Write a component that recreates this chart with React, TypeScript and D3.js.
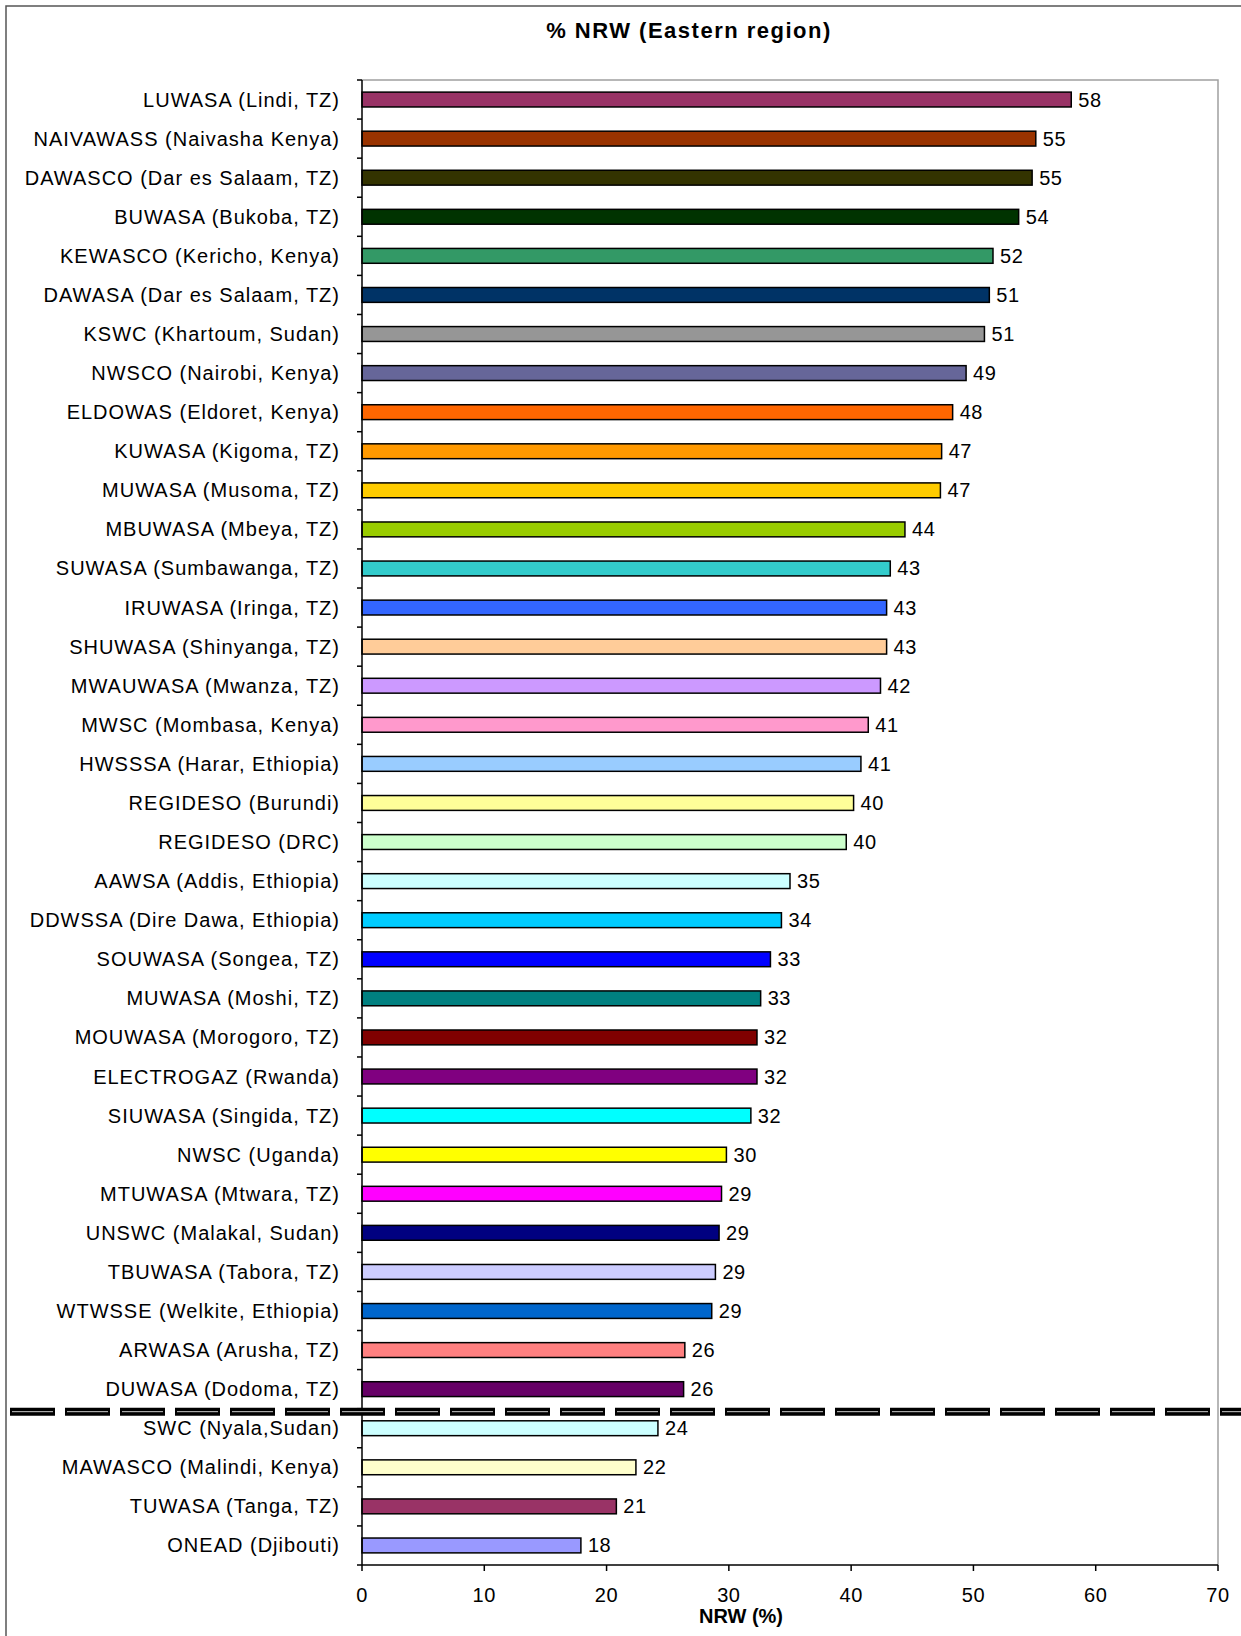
import React from "react";
import * as d3 from "d3";

const categories = [
  "LUWASA (Lindi, TZ)",
  "NAIVAWASS (Naivasha Kenya)",
  "DAWASCO (Dar es Salaam, TZ)",
  "BUWASA (Bukoba, TZ)",
  "KEWASCO (Kericho, Kenya)",
  "DAWASA (Dar es Salaam, TZ)",
  "KSWC (Khartoum, Sudan)",
  "NWSCO (Nairobi, Kenya)",
  "ELDOWAS (Eldoret, Kenya)",
  "KUWASA (Kigoma, TZ)",
  "MUWASA (Musoma, TZ)",
  "MBUWASA (Mbeya, TZ)",
  "SUWASA (Sumbawanga, TZ)",
  "IRUWASA (Iringa, TZ)",
  "SHUWASA (Shinyanga, TZ)",
  "MWAUWASA (Mwanza, TZ)",
  "MWSC (Mombasa, Kenya)",
  "HWSSSA (Harar, Ethiopia)",
  "REGIDESO (Burundi)",
  "REGIDESO (DRC)",
  "AAWSA (Addis, Ethiopia)",
  "DDWSSA (Dire Dawa, Ethiopia)",
  "SOUWASA (Songea, TZ)",
  "MUWASA (Moshi, TZ)",
  "MOUWASA (Morogoro, TZ)",
  "ELECTROGAZ (Rwanda)",
  "SIUWASA (Singida, TZ)",
  "NWSC (Uganda)",
  "MTUWASA (Mtwara, TZ)",
  "UNSWC (Malakal, Sudan)",
  "TBUWASA (Tabora, TZ)",
  "WTWSSE (Welkite, Ethiopia)",
  "ARWASA (Arusha, TZ)",
  "DUWASA (Dodoma, TZ)",
  "SWC (Nyala,Sudan)",
  "MAWASCO (Malindi, Kenya)",
  "TUWASA (Tanga, TZ)",
  "ONEAD (Djibouti)",
];

const nrwValues = [
  58.0, 55.1, 54.8, 53.7, 51.6, 51.3, 50.9, 49.4, 48.3, 47.4, 47.3, 44.4, 43.2,
  42.9, 42.9, 42.4, 41.4, 40.8, 40.2, 39.6, 35.0, 34.3, 33.4, 32.6, 32.3, 32.3,
  31.8, 29.8, 29.4, 29.2, 28.9, 28.6, 26.4, 26.3, 24.2, 22.4, 20.8, 17.9,
];

const barColors = [
  "#993366", "#993300", "#333300", "#003300", "#339966", "#003366", "#969696",
  "#666699", "#FF6600", "#FF9900", "#FFCC00", "#99CC00", "#33CCCC", "#3366FF",
  "#FFCC99", "#CC99FF", "#FF99CC", "#99CCFF", "#FFFF99", "#CCFFCC", "#CCFFFF",
  "#00CCFF", "#0000FF", "#008080", "#800000", "#800080", "#00FFFF", "#FFFF00",
  "#FF00FF", "#000080", "#CCCCFF", "#0066CC", "#FF8080", "#660066", "#CCFFFF",
  "#FFFFCC", "#993366", "#9999FF",
];

const xTicks = [0, 10, 20, 30, 40, 50, 60, 70];

const title = "% NRW (Eastern region)";
const xTitle = "NRW (%)";
// Separator drawn between DUWASA and SWC
const separatorAfterIndex = 33;

const W = 1241;
const H = 1636;
const plot = { left: 362, right: 1218, top: 80, bottom: 1565 };
const FONT = "'Liberation Sans', Arial, sans-serif";

export default function App() {
  const x = d3.scaleLinear().domain([0, 70]).range([plot.left, plot.right]);
  const y = d3
    .scaleBand<string>()
    .domain(categories)
    .range([plot.top, plot.bottom])
    .paddingInner(0.62)
    .paddingOuter(0.31);
  const step = y.step();
  const fmt = d3.format(".0f");
  const boundaries = d3.range(categories.length + 1).map((i) => plot.top + i * step);
  const sepY = plot.top + (separatorAfterIndex + 1) * step + 3;

  return (
    <div style={{ position: "absolute", left: 0, top: 0 }}>
      <svg width={W} height={H} style={{ display: "block", background: "#fff" }}>
        {/* outer chart frame */}
        <path d={`M6,${H} V6 H${W}`} fill="none" stroke="#555" strokeWidth={1.5} />
        <text
          x={689}
          y={38}
          textAnchor="middle"
          fontFamily={FONT}
          fontWeight="bold"
          fontSize={22}
          letterSpacing={1.5}
          fill="#000"
        >
          {title}
        </text>

        {/* plot area border (top & right) */}
        <path
          d={`M${plot.left},${plot.top} H${plot.right} V${plot.bottom}`}
          fill="none"
          stroke="#a0a0a0"
          strokeWidth={1.5}
        />

        {/* bars */}
        {categories.map((c, i) => (
          <rect
            key={c}
            x={x(0)}
            y={y(c)!}
            width={x(nrwValues[i]) - x(0)}
            height={y.bandwidth()}
            fill={barColors[i]}
            stroke="#000"
            strokeWidth={1.5}
          />
        ))}

        {/* value labels */}
        {categories.map((c, i) => (
          <text
            key={"v" + c}
            x={x(nrwValues[i]) + 7}
            y={y(c)! + y.bandwidth() / 2 + 7}
            fontFamily={FONT}
            fontSize={20}
            letterSpacing={0.6}
            fill="#000"
          >
            {fmt(nrwValues[i])}
          </text>
        ))}

        {/* category labels */}
        {categories.map((c) => (
          <text
            key={"c" + c}
            x={339 + 1}
            y={y(c)! + y.bandwidth() / 2 + 7}
            textAnchor="end"
            fontFamily={FONT}
            fontSize={20}
            letterSpacing={1.0}
            fill="#000"
          >
            {c}
          </text>
        ))}

        {/* y axis */}
        <line x1={plot.left} x2={plot.left} y1={plot.top} y2={plot.bottom} stroke="#000" strokeWidth={1.5} />
        {boundaries.map((b, i) => (
          <line key={"yt" + i} x1={plot.left - 5} x2={plot.left} y1={b} y2={b} stroke="#000" strokeWidth={1.5} />
        ))}

        {/* x axis */}
        <line x1={plot.left} x2={plot.right} y1={plot.bottom} y2={plot.bottom} stroke="#000" strokeWidth={1.5} />
        {xTicks.map((t) => (
          <g key={"xt" + t}>
            <line x1={x(t)} x2={x(t)} y1={plot.bottom} y2={plot.bottom + 6} stroke="#000" strokeWidth={1.5} />
            <text
              x={x(t)}
              y={1602}
              textAnchor="middle"
              fontFamily={FONT}
              fontSize={20}
              letterSpacing={0.6}
              fill="#000"
            >
              {t}
            </text>
          </g>
        ))}
        <text
          x={741}
          y={1623}
          textAnchor="middle"
          fontFamily={FONT}
          fontWeight="bold"
          fontSize={20}
          fill="#000"
        >
          {xTitle}
        </text>

        {/* dashed separator line */}
        <line
          x1={10}
          x2={W}
          y1={sepY}
          y2={sepY}
          stroke="#000"
          strokeWidth={8}
          strokeDasharray="45 10"
        />
        <line
          x1={12}
          x2={W}
          y1={sepY}
          y2={sepY}
          stroke="#fff"
          strokeWidth={1}
          strokeDasharray="41 14"
          opacity={0.8}
        />
      </svg>
    </div>
  );
}
